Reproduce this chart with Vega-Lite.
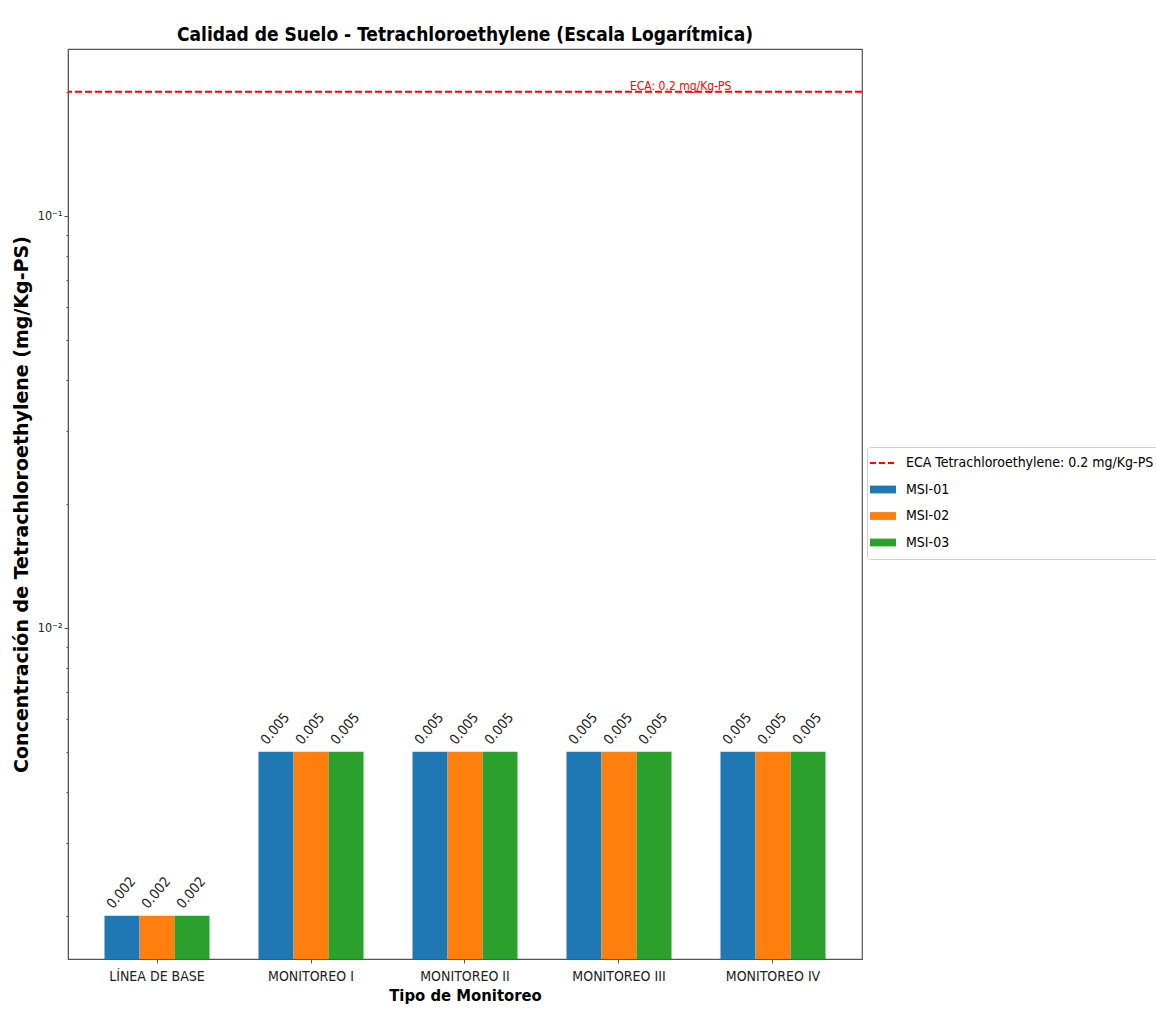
{
  "$schema": "https://vega.github.io/schema/vega-lite/v6.json",
  "width": 794,
  "height": 910,
  "autosize": "none",
  "padding": {"left": 68, "top": 49, "right": 294, "bottom": 55},
  "background": "white",
  "title": {
    "text": "Calidad de Suelo - Tetrachloroethylene (Escala Logarítmica)",
    "font": "DejaVu Sans Condensed",
    "fontWeight": "bold",
    "fontSize": 19,
    "color": "#000",
    "anchor": "middle",
    "baseline": "bottom",
    "offset": 6,
    "dy": 21
  },
  "datasets": {
    "mediciones": [
      {"monitoreo": "LÍNEA DE BASE", "punto": "MSI-01", "valor": 0.002},
      {"monitoreo": "LÍNEA DE BASE", "punto": "MSI-02", "valor": 0.002},
      {"monitoreo": "LÍNEA DE BASE", "punto": "MSI-03", "valor": 0.002},
      {"monitoreo": "MONITOREO I", "punto": "MSI-01", "valor": 0.005},
      {"monitoreo": "MONITOREO I", "punto": "MSI-02", "valor": 0.005},
      {"monitoreo": "MONITOREO I", "punto": "MSI-03", "valor": 0.005},
      {"monitoreo": "MONITOREO II", "punto": "MSI-01", "valor": 0.005},
      {"monitoreo": "MONITOREO II", "punto": "MSI-02", "valor": 0.005},
      {"monitoreo": "MONITOREO II", "punto": "MSI-03", "valor": 0.005},
      {"monitoreo": "MONITOREO III", "punto": "MSI-01", "valor": 0.005},
      {"monitoreo": "MONITOREO III", "punto": "MSI-02", "valor": 0.005},
      {"monitoreo": "MONITOREO III", "punto": "MSI-03", "valor": 0.005},
      {"monitoreo": "MONITOREO IV", "punto": "MSI-01", "valor": 0.005},
      {"monitoreo": "MONITOREO IV", "punto": "MSI-02", "valor": 0.005},
      {"monitoreo": "MONITOREO IV", "punto": "MSI-03", "valor": 0.005}
    ],
    "limite": [
      {"valor": 0.2, "serie": "ECA Tetrachloroethylene: 0.2 mg/Kg-PS", "etiqueta": "ECA: 0.2 mg/Kg-PS", "monitoreo": "MONITOREO III"}
    ]
  },
  "config": {
    "view": {"stroke": "#555", "strokeWidth": 1.2},
    "axis": {"grid": false}
  },
  "resolve": {"axis": {"y": "independent"}},
  "layer": [
    {
      "data": {"name": "mediciones"},
      "mark": {"type": "bar"},
      "encoding": {
        "x": {
          "field": "monitoreo", "type": "nominal",
          "sort": ["LÍNEA DE BASE", "MONITOREO I", "MONITOREO II", "MONITOREO III", "MONITOREO IV"],
          "scale": {"paddingInner": 0.318, "paddingOuter": 0.237},
          "title": "Tipo de Monitoreo",
          "axis": {
            "labelAngle": 0, "labelFont": "DejaVu Sans Condensed", "labelFontSize": 14, "labelColor": "#222",
            "labelPadding": 6, "tickSize": 4, "tickColor": "#555", "domainColor": "#555",
            "titleFont": "DejaVu Sans Condensed", "titleFontWeight": "bold", "titleFontSize": 16.5, "titleColor": "#000", "titlePadding": 4
          }
        },
        "xOffset": {"field": "punto", "type": "nominal", "scale": {"paddingInner": 0, "paddingOuter": 0}},
        "y": {
          "field": "valor", "type": "quantitative",
          "scale": {"type": "log", "domain": [0.00157, 0.254], "nice": false},
          "title": "Concentración de Tetrachloroethylene (mg/Kg-PS)",
          "axis": {
            "orient": "left",
            "values": [0.01, 0.1],
            "labelExpr": "datum.value > 0.05 ? '10⁻¹' : '10⁻²'",
            "labelFont": "DejaVu Sans Condensed", "labelFontSize": 12.5, "labelColor": "#222",
            "tickSize": 4, "tickColor": "#555", "domainColor": "#555",
            "titleFont": "DejaVu Sans", "titleFontWeight": "bold", "titleFontSize": 19, "titleColor": "#000", "titlePadding": 6
          }
        },
        "y2": {"datum": 0.00157},
        "color": {
          "field": "punto", "type": "nominal",
          "scale": {"domain": ["ECA Tetrachloroethylene: 0.2 mg/Kg-PS", "MSI-01", "MSI-02", "MSI-03"], "range": ["#ff0000", "#1f77b4", "#ff7f0e", "#2ca02c"]},
          "legend": {
            "title": null, "orient": "none", "legendX": 799, "legendY": 398,
            "labelFont": "DejaVu Sans Condensed", "labelFontSize": 14, "labelColor": "#000", "labelLimit": 400,
            "symbolSize": 676, "strokeColor": "#d0d0d0", "cornerRadius": 3, "padding": 9,
            "fillColor": "white", "rowPadding": 12.5, "labelOffset": 16,
            "encode": {
              "symbols": {
                "update": {
                  "shape": {"signal": "datum.index === 0 ? 'stroke' : 'M-1,-0.3H1V0.3H-1Z'"},
                  "strokeDash": {"signal": "datum.index === 0 ? [6,3] : [1,0]"},
                  "stroke": {"signal": "datum.index === 0 ? '#ff0000' : 'transparent'"},
                  "strokeWidth": {"signal": "datum.index === 0 ? 2 : 0"},
                  "fill": {"signal": "datum.index === 0 ? 'transparent' : datum.index === 1 ? '#1f77b4' : datum.index === 2 ? '#ff7f0e' : '#2ca02c'"},
                  "opacity": {"value": 1}
                }
              }
            }
          }
        }
      }
    },
    {
      "data": {"name": "mediciones"},
      "mark": {"type": "text", "angle": -50, "align": "center", "baseline": "middle", "dx": 17, "dy": -15, "font": "DejaVu Sans Condensed", "fontSize": 14, "color": "#222"},
      "encoding": {
        "x": {"field": "monitoreo", "type": "nominal", "sort": ["LÍNEA DE BASE", "MONITOREO I", "MONITOREO II", "MONITOREO III", "MONITOREO IV"]},
        "xOffset": {"field": "punto", "type": "nominal"},
        "y": {
          "field": "valor", "type": "quantitative",
          "axis": {
            "orient": "left",
            "values": [0.002, 0.003, 0.004, 0.005, 0.006, 0.007, 0.008, 0.009, 0.02, 0.03, 0.04, 0.05, 0.06, 0.07, 0.08, 0.09, 0.2],
            "labels": false, "domain": false, "title": null, "tickSize": 2, "tickColor": "#555"
          }
        },
        "text": {"field": "valor", "type": "quantitative", "format": ".3f"}
      }
    },
    {
      "data": {"name": "limite"},
      "mark": {"type": "rule", "strokeDash": [7, 3], "strokeWidth": 2},
      "encoding": {
        "y": {"field": "valor", "type": "quantitative", "axis": null},
        "color": {
          "field": "serie", "type": "nominal",
          "scale": {"domain": ["ECA Tetrachloroethylene: 0.2 mg/Kg-PS", "MSI-01", "MSI-02", "MSI-03"], "range": ["#ff0000", "#1f77b4", "#ff7f0e", "#2ca02c"]}
        }
      }
    },
    {
      "data": {"name": "limite"},
      "mark": {"type": "text", "align": "left", "baseline": "bottom", "dx": 11, "dy": 1, "font": "DejaVu Sans Condensed", "fontSize": 12, "color": "#ff0000"},
      "encoding": {
        "x": {"field": "monitoreo", "type": "nominal"},
        "y": {"field": "valor", "type": "quantitative", "axis": null},
        "text": {"field": "etiqueta", "type": "nominal"}
      }
    }
  ]
}
